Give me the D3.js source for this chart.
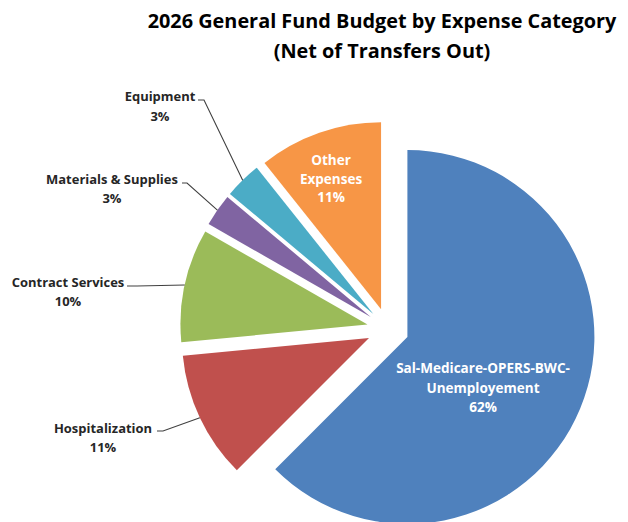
<!DOCTYPE html>
<html><head><meta charset="utf-8">
<script src="https://cdn.jsdelivr.net/npm/d3@7"></script>
<style>body{margin:0;background:#fff;} svg{display:block;}</style>
</head><body>
<svg id="chart" width="628" height="522"></svg>
<script>
// ---- data ----
const categories = ["Sal-Medicare-OPERS-BWC-Unemployement", "Hospitalization", "Contract Services", "Materials & Supplies", "Equipment", "Other Expenses"];
const values = [62.49, 11.0, 9.8, 2.8, 3.2, 10.71];
const labelLines = [["Sal-Medicare-OPERS-BWC-", "Unemployement"], ["Hospitalization"], ["Contract Services"], ["Materials & Supplies"], ["Equipment"], ["Other", "Expenses"]];
const colors = ["#4F81BD", "#C0504D", "#9BBB59", "#8064A2", "#4BACC6", "#F79646"];
const titleLines = ["2026 General Fund Budget by Expense Category", "(Net of Transfers Out)"];

// ---- layout ----
const W = 628, H = 522;
const cx = 388, cy = 329, R = 187, explode = 21;
const font = "'Open Sans', sans-serif";
const labelLayout = [
  {inside: true, x: 483, y: 373, lh: 19.5},
  {inside: false, x: 103, y: 433, lh: 18.5, lx0: 157, lx1: 163, ly: 431},
  {inside: false, x: 68, y: 287, lh: 18.5, lx0: 127, lx1: 137, ly: 286},
  {inside: false, x: 112, y: 184, lh: 19, lx0: 182, lx1: 187, ly: 183},
  {inside: false, x: 160, y: 101, lh: 20, lx0: 198, lx1: 204, ly: 100},
  {inside: true, x: 331, y: 165, lh: 18.5}
];

const svg = d3.select("#chart");

function fitSize(str, weight, target, base) {
  const t = svg.append("text").attr("font-family", font).attr("font-weight", weight).attr("font-size", base).text(str);
  const w = t.node().getComputedTextLength();
  t.remove();
  return base * target / w;
}
const titleSize = fitSize(titleLines[0], "bold", 469, 18);
const outSize = fitSize("Materials & Supplies", "bold", 132, 11);
const inSize = fitSize("Sal-Medicare-OPERS-BWC-", "bold", 174, 12);

// title
svg.append("g").selectAll("text").data(titleLines).join("text")
  .attr("x", 382).attr("y", (d, i) => 28 + i * 30)
  .attr("text-anchor", "middle").attr("font-family", font).attr("font-weight", "bold")
  .attr("font-size", titleSize).attr("fill", "#000").text(d => d);

// pie
const pie = d3.pie().sort(null).value(d => d).startAngle(0).endAngle(2 * Math.PI);
const arcs = pie(values);
const total = d3.sum(values);
const arc = d3.arc().innerRadius(0).outerRadius(R);

function offset(a) {
  const m = (a.startAngle + a.endAngle) / 2;
  return [explode * Math.sin(m), -explode * Math.cos(m)];
}

const g = svg.append("g").attr("transform", `translate(${cx},${cy})`);
g.selectAll("path").data(arcs).join("path")
  .attr("transform", d => { const o = offset(d); return `translate(${o[0]},${o[1]})`; })
  .attr("d", arc)
  .attr("fill", (d, i) => colors[i]);

// leader lines
arcs.forEach((a, i) => {
  const L = labelLayout[i];
  if (L.inside) return;
  const m = (a.startAngle + a.endAngle) / 2;
  const o = offset(a);
  const px = cx + o[0] + R * Math.sin(m), py = cy + o[1] - R * Math.cos(m);
  svg.append("path")
    .attr("d", `M${L.lx0},${L.ly}L${L.lx1},${L.ly}L${px},${py}`)
    .attr("fill", "none").attr("stroke", "#404040").attr("stroke-width", 1.1);
});

// labels
arcs.forEach((a, i) => {
  const L = labelLayout[i];
  const pct = Math.round(values[i] / total * 100) + "%";
  const lines = labelLines[i].concat([pct]);
  const t = svg.append("text")
    .attr("text-anchor", "middle").attr("font-family", font).attr("font-weight", "bold")
    .attr("font-size", L.inside ? inSize : outSize)
    .attr("fill", L.inside ? "#ffffff" : "#262626");
  lines.forEach((s, k) => {
    t.append("tspan").attr("x", L.x).attr("y", L.y + k * L.lh).text(s);
  });
});
</script>
</body></html>
